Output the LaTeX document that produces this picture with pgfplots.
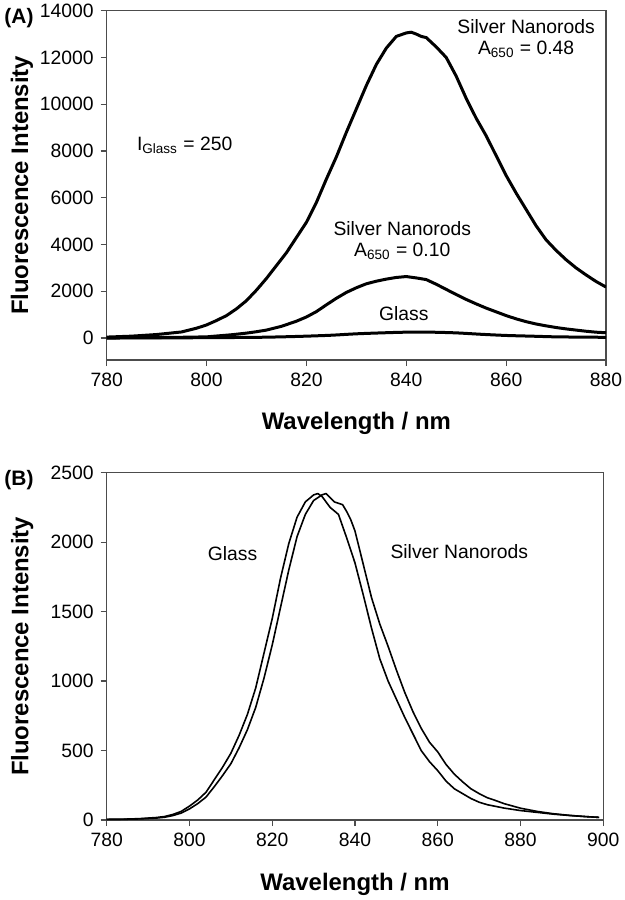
\documentclass[border=0pt]{standalone}
\usepackage{fontspec}
\setmainfont{Liberation Sans}
\usepackage{pgfplots}
\pgfplotsset{compat=1.18}
\tikzset{annot/.style={font=\fontsize{9.7}{11}\selectfont, inner sep=0pt}}
\begin{document}
\begin{tikzpicture}
\path[use as bounding box] (0,0) rectangle (312.5bp,-450bp);
\pgfplotsset{
  myaxis/.style={
    scale only axis,
    anchor=north west,
    axis line style={black!70, line width=0.6bp},
    tick style={black!70, line width=0.6bp},
    tick align=outside,
    major tick length=3bp,
    xtick pos=bottom, ytick pos=left,
    scaled ticks=false,
    tick label style={font=\fontsize{9.7}{11}\selectfont},
    /pgf/number format/assume math mode=true,
    /pgf/number format/set thousands separator={},
    label style={font=\bfseries\fontsize{12}{14}\selectfont},
    cycle list={{black, no marks, smooth, tension=0.3}},
  }
}
\begin{axis}[myaxis, at={(53.35bp,-5.35bp)}, width=249.65bp, height=174.65bp,
  xmin=780, xmax=880, ymin=-940, ymax=14000,
  xtick={780,800,...,880}, ytick={0,2000,...,14000},
  xlabel={Wavelength / nm}, ylabel={Fluorescence Intensity},
  xlabel style={at={(axis description cs:0.5,-0.18)}, anchor=center},
  ylabel style={at={(axis description cs:-0.17,0.5)}, anchor=center},
  every axis plot/.append style={line width=1.5bp, line join=round}]
\addplot coordinates {
(780,40)(785,80)(790,150)(795,260)(798,420)(800,560)(802,750)(804,960)(806,1250)
(808,1600)(810,2050)(812,2550)(814,3100)(816,3650)(818,4300)(820,4950)(822,5800)
(824,6800)(826,7750)(828,8800)(830,9800)(832,10800)(834,11700)(836,12400)
(838,12900)(840,13050)(841,13080)(842,13000)(843,12900)(844,12850)(845,12650)
(846,12450)(848,12000)(850,11200)(852,10250)(854,9400)(856,8650)(858,7800)
(860,6950)(862,6200)(864,5500)(866,4800)(868,4200)(870,3750)(872,3350)(874,3000)
(876,2700)(878,2420)(880,2180)};
\addplot coordinates {
(780,10)(790,20)(796,35)(800,50)(805,140)(808,210)(810,270)(812,340)(815,500)
(818,720)(820,900)(822,1130)(824,1420)(826,1700)(828,1950)(830,2150)(832,2320)
(834,2430)(836,2520)(838,2590)(840,2630)(842,2570)(844,2500)(846,2300)(848,2080)
(850,1860)(852,1650)(854,1460)(856,1280)(858,1120)(860,960)(862,820)(864,700)
(866,600)(868,520)(870,450)(872,390)(874,340)(876,290)(878,250)(880,225)};
\addplot coordinates {
(780,0)(790,5)(800,15)(810,30)(815,50)(820,80)(825,120)(830,180)(835,220)(840,250)
(845,250)(850,220)(855,160)(860,110)(865,80)(870,50)(875,40)(880,30)};
\node[annot, anchor=base] at (axis cs:864,13010) {Silver Nanorods};
\node[annot, anchor=base] at (axis cs:864,12110) {A\textsubscript{650} = 0.48};
\node[annot, anchor=base west] at (axis cs:786,8030) {I\textsubscript{Glass} = 250};
\node[annot, anchor=base] at (axis cs:839.2,4400) {Silver Nanorods};
\node[annot, anchor=base] at (axis cs:839.2,3470) {A\textsubscript{650} = 0.10};
\node[annot, anchor=base] at (axis cs:839.5,740) {Glass};
\end{axis}
\begin{axis}[myaxis, at={(53.35bp,-236.35bp)}, width=248.3bp, height=173.65bp,
  xmin=780, xmax=900, ymin=0, ymax=2500,
  xtick={780,800,...,900}, ytick={0,500,...,2500},
  xlabel={Wavelength / nm}, ylabel={Fluorescence Intensity},
  xlabel style={at={(axis description cs:0.5,-0.184)}, anchor=center},
  ylabel style={at={(axis description cs:-0.17,0.5)}, anchor=center},
  every axis plot/.append style={line width=0.8bp, line join=round}]
\addplot coordinates {
(780,5)(784,6)(788,10)(792,18)(794,25)(796,40)(798,62)(800,100)(802,144)(804,200)
(806,290)(808,380)(810,480)(812,610)(814,760)(816,950)(818,1200)(820,1450)(822,1740)
(824,1990)(826,2180)(828,2290)(830,2340)(831,2350)(832,2330)(834,2250)(836,2200)
(838,2030)(840,1850)(842,1620)(844,1380)(846,1160)(848,1000)(850,870)(852,740)
(854,620)(856,500)(858,420)(860,355)(862,280)(864,225)(866,190)(868,155)(870,128)
(872,110)(874,98)(876,86)(880,68)(884,55)(888,42)(892,32)(896,24)(899,19)};
\addplot coordinates {
(780,4)(784,5)(788,8)(792,14)(794,20)(796,32)(798,50)(800,80)(802,118)(804,165)
(806,240)(808,320)(810,405)(812,520)(814,650)(816,810)(818,1020)(820,1260)(822,1530)
(824,1800)(826,2040)(828,2200)(830,2300)(832,2340)(833,2350)(834,2320)(835,2290)
(836,2280)(837,2270)(838,2220)(839,2160)(840,2080)(842,1840)(844,1600)(846,1410)
(848,1250)(850,1080)(852,920)(854,780)(856,660)(858,560)(860,490)(862,400)(864,330)
(866,275)(868,225)(870,190)(872,160)(874,140)(876,118)(880,85)(884,62)(888,45)
(892,33)(896,24)(899,19)};
\node[annot, anchor=base] at (axis cs:810.4,1865) {Glass};
\node[annot, anchor=base] at (axis cs:865.2,1883) {Silver Nanorods};
\end{axis}
\node[font=\bfseries\fontsize{10.5}{12}\selectfont] at (9.5bp,-9.25bp) {(A)};
\node[font=\bfseries\fontsize{10.5}{12}\selectfont] at (9.5bp,-240bp) {(B)};
\end{tikzpicture}
\end{document}
